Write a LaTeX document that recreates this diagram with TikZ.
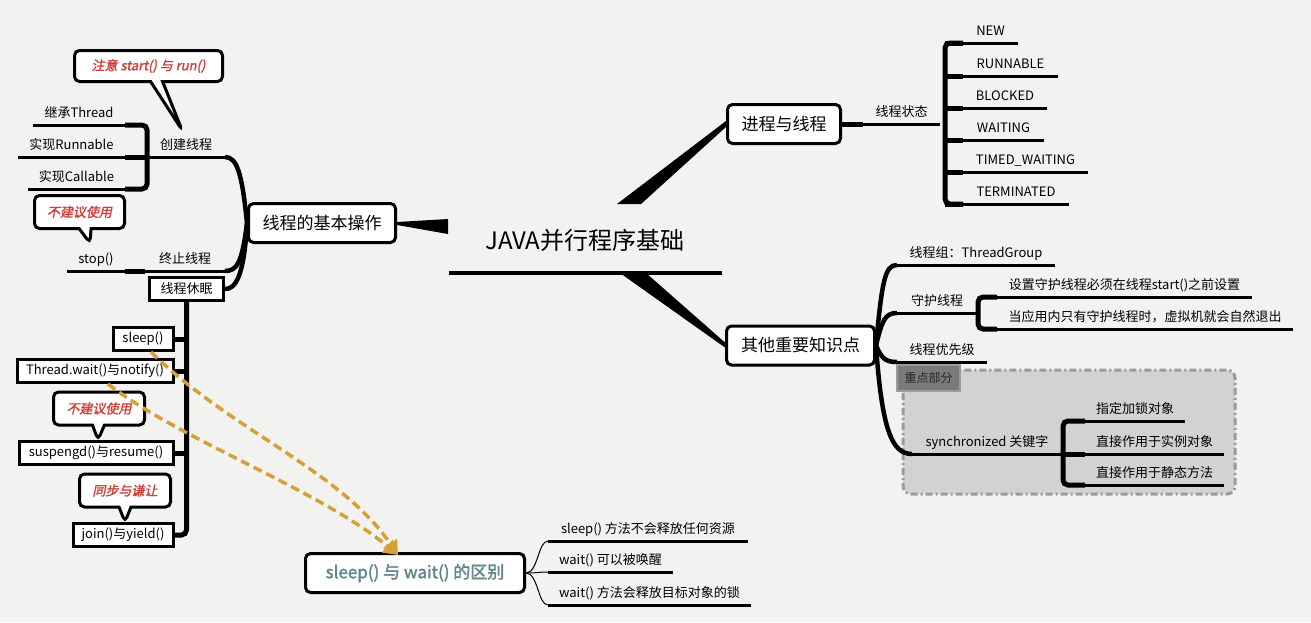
\documentclass[tikz,border=0pt]{standalone}
\usepackage{fontspec}
\setmainfont{Noto Sans CJK SC}
\newfontfamily\boldfont{Noto Sans CJK SC}[FakeBold=2]
\newfontfamily\notefont{Noto Sans CJK SC}[FakeBold=1.5,FakeSlant=0.2]
\usepackage{tikz}
\usetikzlibrary{calc,positioning,arrows,arrows.meta,shapes,shapes.callouts}

\definecolor{paper}{RGB}{242,242,240}
\definecolor{noteRed}{RGB}{205,62,55}
\definecolor{dashOrange}{RGB}{214,160,56}
\definecolor{titleTeal}{RGB}{95,135,140}
\definecolor{tagGray}{RGB}{122,122,122}
\definecolor{boxGray}{RGB}{210,210,210}
\definecolor{rimGray}{RGB}{155,155,155}

\begin{document}
\begin{tikzpicture}[x=1pt,y=-1pt]

	\tikzstyle{topic} = [draw, line width=3pt, rounded corners=5pt, fill=white,
		minimum height=39pt, font=\fontsize{17}{20}\selectfont]
	\tikzstyle{leaf} = [draw, line width=3pt, fill=white, minimum height=23pt,
		inner xsep=4pt, font=\fontsize{13}{15}\selectfont]
	\tikzstyle{lbl} = [above=1pt, inner sep=2pt, text height=10.5pt, text depth=3pt,
		font=\fontsize{13}{15}\selectfont]
	\tikzstyle{note} = [rectangle callout, draw, line width=3pt, rounded corners=5pt,
		fill=white, callout pointer width=12pt, minimum height=33pt, text=noteRed,
		font=\notefont\fontsize{13}{15}\selectfont]
	\tikzstyle{uline} = [draw, line width=3pt]
	\tikzstyle{stub} = [draw, line width=5pt]
	\tikzstyle{brace} = [draw, line width=5pt, rounded corners=5pt]
	\tikzstyle{branch} = [draw, line width=4.5pt]
	\tikzstyle{twig} = [draw, line width=1pt]
	\tikzstyle{relation} = [draw=dashOrange, line width=3.5pt, dash pattern=on 9pt off 5pt,
		-{Triangle[length=14pt,width=16pt]}]

	\fill[paper] (0,0) rectangle (1311,622);
	\useasboundingbox (0,0) rectangle (1311,622);

	%key part frame
	\draw[draw=rimGray, fill=boxGray, line width=3pt, rounded corners=8pt,
		dash pattern=on 7pt off 3pt on 2pt off 3pt] (903,370) rectangle (1235,494);

	% root
	\node[font=\fontsize{24}{28}\selectfont] (root) at (585,240) {JAVA并行程序基础};
	\coordinate (rootL) at (449,273);
	\coordinate (rootR) at (722,273);
	\draw[line width=4pt] (rootL) -- (rootR);

	\node[topic, minimum width=113pt] (proc) at (784,124) {进程与线程};
	\node[topic, minimum width=148pt] (other) at (800.5,345.5) {其他重要知识点};
	\node[topic, minimum width=147pt] (basic) at (322,223) {线程的基本操作};
	\node[topic, minimum width=219pt, text=titleTeal,
		font=\boldfont\fontsize{17}{20}\selectfont] (diff) at (415,573) {sleep() 与 wait() 的区别};

	\fill (617,204) -- (641,204) -- ($(proc.west)+(0,3)$) -- ($(proc.west)+(0,-3)$) -- cycle;
	\fill (620,273) -- (646,273) -- ($(other.west)+(0,-3)$) -- ($(other.west)+(0,2)$) -- cycle;
	\fill ($(basic.east)+(0,-1)$) -- (448,219) -- (448,234) -- ($(basic.east)+(0,2)$) -- cycle;

	% thread states
	\coordinate (stateL) at (863,124);
	\coordinate (stateR) at (940,124);
	\draw[stub] (proc.east) -- (stateL);
	\draw[uline] (stateL) -- node[lbl] (state) {线程状态} (stateR);
	\draw[brace] (963,43) -- (945,43) -- (945,204) -- (963,204);
	\foreach \y/\len/\txt [count=\i] in {43/55/NEW, 76/95/RUNNABLE, 108/84/BLOCKED,
			140/81/WAITING, 172/125/TIMED\_WAITING, 204/106/TERMINATED} {
		\draw[stub] (945,\y) -- (963,\y) coordinate (s\i);
		\draw[uline] (s\i) -- node[lbl] (st\i) {\txt} ++(\len,0);
	}

	% other points
	\coordinate (grpL) at (897,265);
	\coordinate (daemonL) at (897,313);
	\coordinate (prioL) at (897,362);
	\coordinate (syncL) at (912,454);
	\draw[branch] (other.east) .. controls +(6,-65) and +(-12,0) .. (grpL);
	\draw[branch] (other.east) .. controls +(6,-25) and +(-12,0) .. (daemonL);
	\draw[branch] (other.east) .. controls +(6,13) and +(-12,0) .. (prioL);
	\draw[branch] (other.east) .. controls +(6,85) and +(-20,0) .. (syncL);

	\draw[uline] (grpL) -- node[lbl] (grp) {线程组：ThreadGroup} ++(158,0);
	\draw[uline] (daemonL) -- node[lbl] (daemon) {守护线程} ++(80,0);
	\draw[brace] (997,297) -- (978,297) -- (978,329) -- (997,329);
	\coordinate (d1) at (997,297);
	\coordinate (d2) at (997,329);
	\draw[uline] (d1) -- node[lbl] (d1t) {设置守护线程必须在线程start()之前设置} ++(255,0);
	\draw[uline] (d2) -- node[lbl] (d2t) {当应用内只有守护线程时，虚拟机就会自然退出} ++(296,0);
	\draw[uline] (prioL) -- node[lbl] (prio) {线程优先级} ++(90,0);

	\node[fill=tagGray, draw=rimGray, line width=1.5pt, minimum width=63pt, minimum height=26pt,
		inner sep=1pt, text=black!85, font=\fontsize{12}{14}\selectfont] (key) at (928.5,378) {重点部分};

	\draw[uline] (syncL) -- node[lbl] (sync) {synchronized 关键字} ++(150,0);
	\draw[brace] (1085,421) -- (1063,421) -- (1063,485) -- (1085,485);
	\draw[stub] (1063,454) -- (1085,454);
	\foreach \y/\len/\txt [count=\i] in {421/100/指定加锁对象, 454/139/直接作用于实例对象,
			485/139/直接作用于静态方法} {
		\coordinate (k\i) at (1085,\y);
		\draw[uline] (k\i) -- node[lbl] (kt\i) {\txt} ++(\len,0);
	}

	% create
	\coordinate (createL) at (147,157);
	\coordinate (createR) at (225,157);
	\draw[branch] (basic.west) .. controls +(-5,-50) and +(12,0) .. (createR);
	\draw[uline] (createL) -- node[lbl] (create) {创建线程} (createR);
	\draw[brace] (125,125) -- (147,125) -- (147,189) -- (125,189);
	\draw[stub] (147,157) -- (125,157);
	\foreach \y/\x/\txt [count=\i] in {125/33/继承Thread, 157/18/实现Runnable, 189/28/实现Callable} {
		\coordinate (c\i) at (125,\y);
		\draw[uline] (\x,\y) -- node[lbl] (ct\i) {\txt} (c\i);
	}

	% stop
	\coordinate (stopL) at (145,271);
	\coordinate (stopR) at (225,271);
	\draw[branch] (basic.west) .. controls +(-5,40) and +(12,0) .. (stopR);
	\draw[uline] (stopL) -- node[lbl] (stopT) {终止线程} (stopR);
	\draw[stub] (stopL) -- (125,271) coordinate (stopC);
	\draw[uline] (67,271) -- node[lbl] (stopF) {stop()} (stopC);

	% sleep
	\node[leaf, minimum width=74pt] (rest) at (186.5,289) {线程休眠};
	\draw[branch] (basic.west) .. controls +(-3,55) and +(10,0) .. (rest.east);

	\node[leaf, anchor=east, minimum width=60pt] (sleepB) at (174.5,339) {sleep()};
	\node[leaf, anchor=east, minimum width=156pt] (waitB) at (174.5,371) {Thread.wait()与notify()};
	\node[leaf, anchor=east, minimum width=154pt] (suspB) at (174.5,453) {suspengd()与resume()};
	\node[leaf, anchor=east, minimum width=100pt] (joinB) at (174.5,535) {join()与yield()};

	\draw[brace] (rest.south) -- (rest.south |- joinB.east) -- (joinB.east);
	\foreach \b in {sleepB,waitB,suspB}
		\draw[stub] (\b.east) -- (\b.east -| rest.south);

	% notes
	\node[note, minimum width=148pt, minimum height=31pt, callout absolute pointer={(182,130)}]
		(noteStart) at (148.5,66) {注意 start() 与 run()};
	\node[note, minimum width=90pt, callout absolute pointer={(90,243)}]
		(noteStop) at (79.5,212) {不建议使用};
	\node[note, minimum width=91pt, callout absolute pointer={(98,440)}]
		(noteSusp) at (99,408.5) {不建议使用};
	\node[note, minimum width=91pt, callout absolute pointer={(125,522)}]
		(noteJoin) at (125,490.5) {同步与谦让};

	% sleep vs wait
	\coordinate (w1) at (548,541);
	\coordinate (w2) at (548,572);
	\coordinate (w3) at (548,605);
	\foreach \w in {w1,w2,w3}
		\draw[twig] (diff.east) .. controls +(12,0) and +(-10,0) .. (\w);
	\draw[uline] (w1) -- node[lbl] (w1t) {sleep() 方法不会释放任何资源} ++(200,0);
	\draw[uline] (w2) -- node[lbl] (w2t) {wait() 可以被唤醒} ++(125,0);
	\draw[uline] (w3) -- node[lbl] (w3t) {wait() 方法会释放目标对象的锁} ++(203,0);

	\coordinate (hit) at (398,555);
	\draw[relation] ($(sleepB.south)+(8,0)$) .. controls (230,430) and (340,470) .. (hit);
	\draw[relation] ($(waitB.south)+(13,0)$) .. controls (180,440) and (320,490) .. (hit);

\end{tikzpicture}
\end{document}
